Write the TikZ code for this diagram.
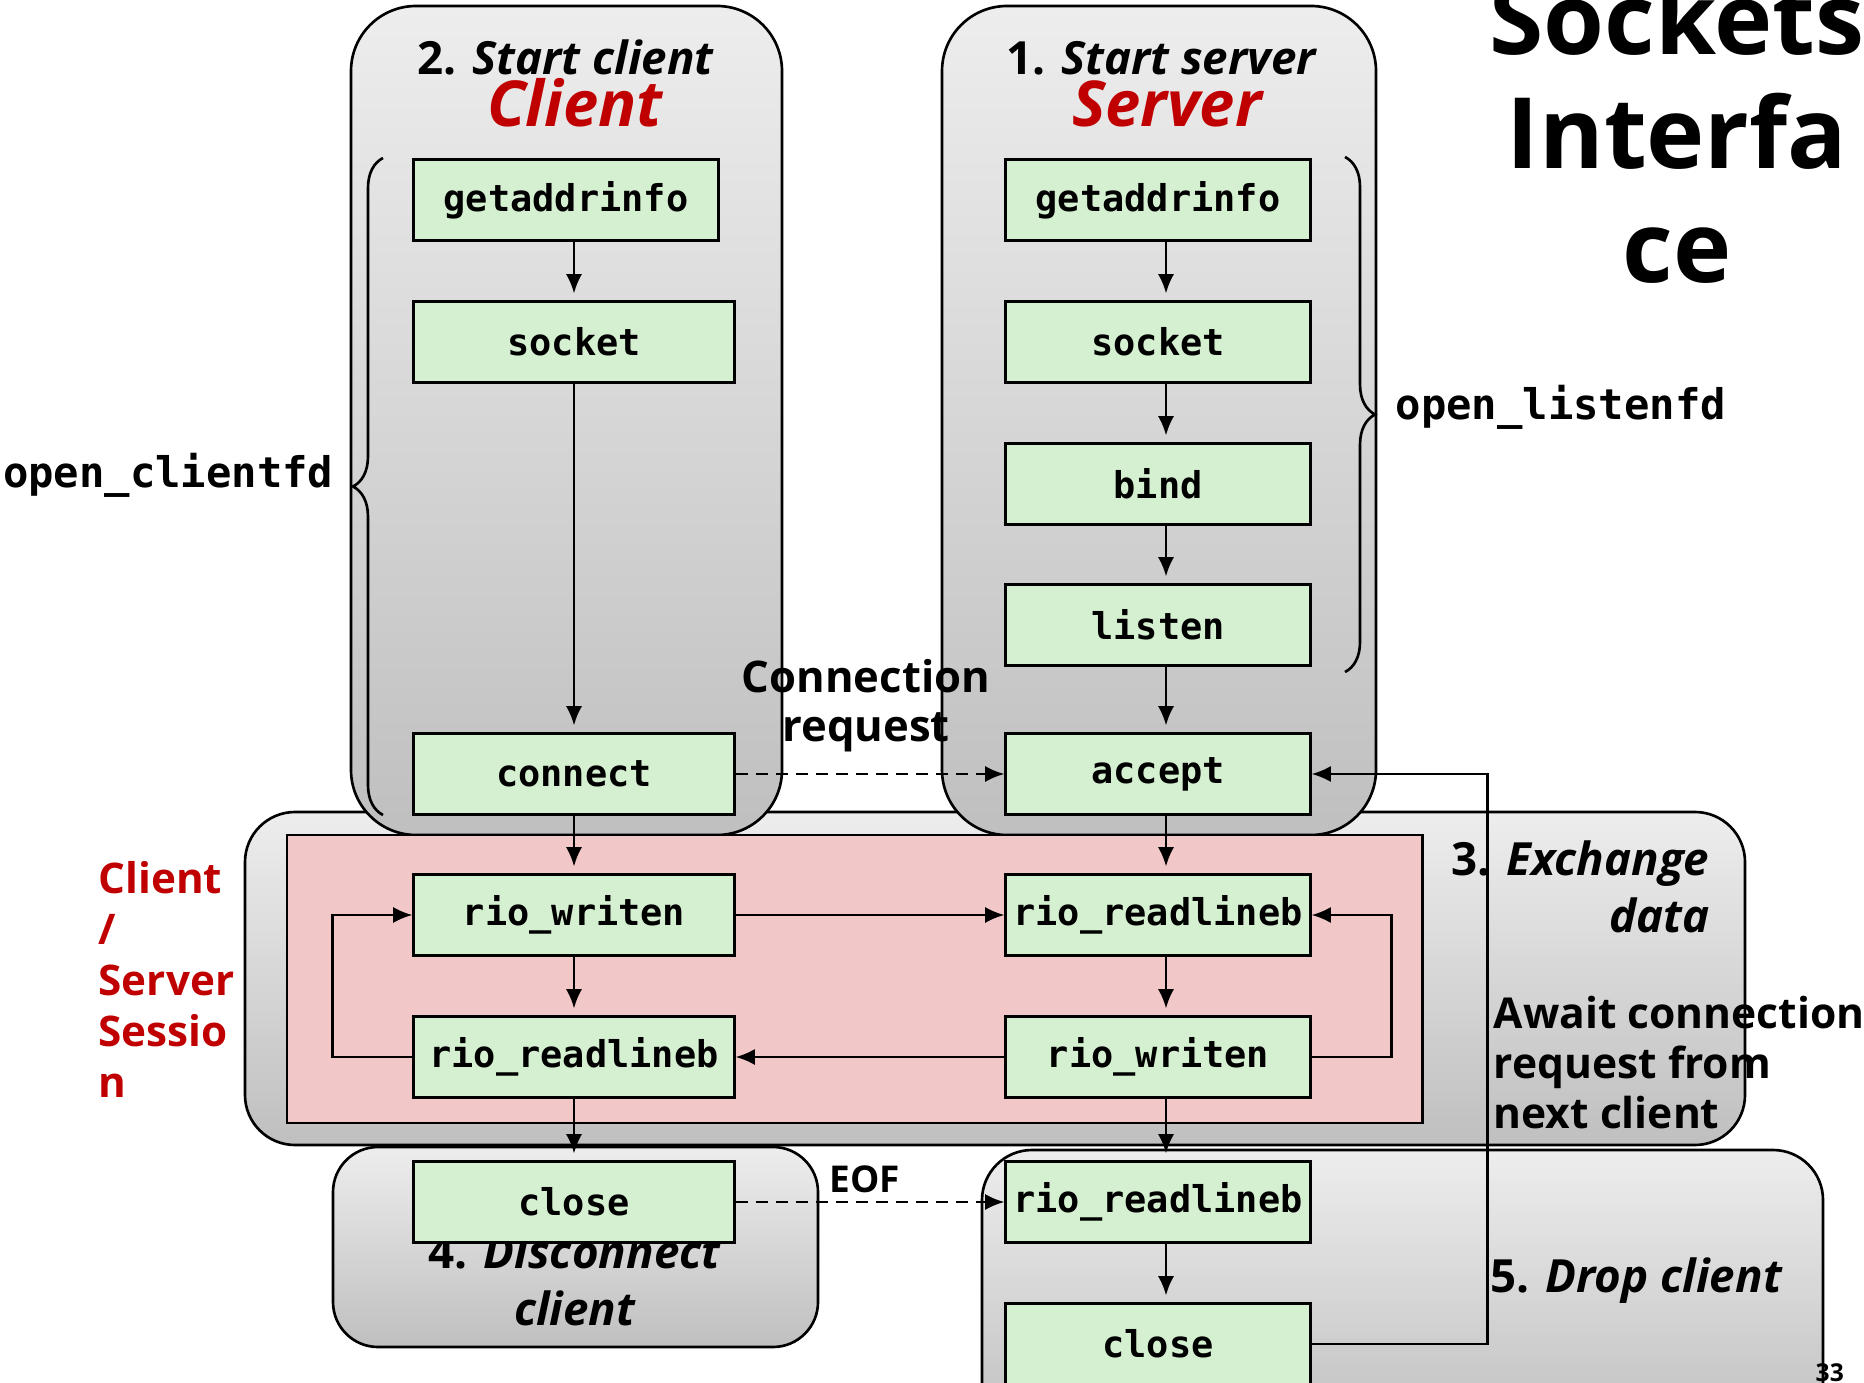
\documentclass[tikz,border=0pt]{standalone}
\usepackage{fontspec}
\setmainfont{Open Sans}
\setmonofont{DejaVu Sans Mono}
\usetikzlibrary{arrows.meta,calc,decorations.pathreplacing}

\definecolor{fngreen}{RGB}{213,240,208}
\definecolor{sessionpink}{RGB}{241,199,200}
\definecolor{titlered}{RGB}{192,0,0}

\tikzset{
	fn/.style={draw,line width=0.85pt,fill=fngreen,minimum width=3.04cm,minimum height=0.8cm,
		inner sep=0pt,font=\ttfamily\bfseries\fontsize{10.5}{12}\selectfont},
	stage/.style={draw,line width=0.75pt,top color=black!7,bottom color=black!25},
	txt/.style={inner sep=0pt,font=\bfseries\fontsize{12.4}{14.2}\selectfont},
	flow/.style={->,line width=0.7pt},
	req/.style={->,line width=0.7pt,dash pattern=on 3.5pt off 2.2pt},
	fdbrace/.style={line width=0.75pt,decorate,decoration={brace,amplitude=0.3cm}},
}

\begin{document}
\begin{tikzpicture}[>={Latex[length=5.5pt,width=4.6pt]},x=0.01cm,y=-0.01cm]

\useasboundingbox (0,0) rectangle (1864,1383);
\clip (0,0) rectangle (1864,1383);

% stage boxes
\draw[stage,rounded corners=0.5cm] (245,812) rectangle (1745,1145);
\draw[stage,rounded corners=0.65cm] (351,6) rectangle (782,835);
\draw[stage,rounded corners=0.65cm] (942,6) rectangle (1376,835);
\draw[line width=0.85pt,fill=sessionpink] (287,835) rectangle (1422,1123);
\draw[stage,rounded corners=0.45cm] (333,1147) rectangle (818,1347);
\draw[stage,rounded corners=0.5cm] (982,1150) rectangle (1823,1440);

% braces
\draw[fdbrace] (383,815) -- (383,158);
\draw[fdbrace] (1345,157) -- (1345,672);

% titles and notes
\node[txt,anchor=base,font=\bfseries\fontsize{13}{15}\selectfont] (ctitle) at (566,75) {2. \textit{Start client}};
\node[txt,anchor=base,text=titlered,font=\bfseries\itshape\fontsize{18}{20}\selectfont] (cname) at (575,127) {Client};
\node[txt,anchor=base,font=\bfseries\fontsize{13}{15}\selectfont] (stitle) at (1162,75) {1. \textit{Start server}};
\node[txt,anchor=base,text=titlered,font=\bfseries\itshape\fontsize{18}{20}\selectfont] (sname) at (1167,127) {Server};
\node[txt,anchor=base,align=center,font=\bfseries\fontsize{28}{32.5}\selectfont] (heading) at (1677,283) {Sockets\\Interfa\\ce};
\node[txt,anchor=base east,align=right,font=\bfseries\fontsize{13}{16}\selectfont] (xchg) at (1710,932) {3. \textit{Exchange}\\\textit{data}};
\node[txt,anchor=base west,align=left,font=\bfseries\fontsize{12.1}{14.2}\selectfont] (await) at (1493,1128) {Await connection\\request from\\next client};
\node[txt,anchor=base west,align=left,text=titlered,font=\bfseries\fontsize{12}{14.5}\selectfont] (session) at (98,1097) {Client\\/\\Server\\Sessio\\n};
\node[txt,anchor=base,align=center] (creq) at (866,742) {Connection\\request};
\node[txt,anchor=base,align=center,font=\bfseries\fontsize{13}{16}\selectfont] (disc) at (575,1325) {4. \textit{Disconnect}\\\textit{client}};
\node[txt,anchor=base west,font=\bfseries\fontsize{13}{15}\selectfont] (drop) at (1490,1292) {5. \textit{Drop client}};
\node[txt,anchor=base west,font=\bfseries\fontsize{10.5}{12}\selectfont] (eof) at (829,1192) {EOF};
\node[txt,anchor=base east,font=\ttfamily\bfseries\fontsize{12}{14}\selectfont] (openc) at (334,488) {open\_clientfd};
\node[txt,anchor=base west,font=\ttfamily\bfseries\fontsize{12}{14}\selectfont] (openl) at (1395,420) {open\_listenfd};
\node[txt,anchor=base west,font=\bfseries\fontsize{7}{8}\selectfont] (pg) at (1815,1381) {33};

% client side
\node[fn] (cgai) at (566,200) {getaddrinfo};
\node[fn,minimum width=3.2cm] (csock) at (574,342) {socket};
\node[fn,minimum width=3.2cm] (cconn) at (574,774) {connect};
\node[fn,minimum width=3.2cm] (cwr) at (574,915) {rio\_writen};
\node[fn,minimum width=3.2cm] (crd) at (574,1057) {rio\_readlineb};
\node[fn,minimum width=3.2cm] (cclose) at (574,1202) {close};

% server side
\node[fn] (sgai) at (1158,200) {getaddrinfo};
\node[fn] (ssock) at (1158,342) {socket};
\node[fn] (sbind) at (1158,484) {bind};
\node[fn] (slisten) at (1158,625) {listen};
\node[fn] (saccept) at (1158,774) {accept};
\node[fn] (srd) at (1158,915) {rio\_readlineb};
\node[fn] (swr) at (1158,1057) {rio\_writen};
\node[fn] (seof) at (1158,1202) {rio\_readlineb};
\node[fn] (sclose) at (1158,1344) {close};

\coordinate (cx) at (574,0);
\coordinate (sx) at (1166,0);

% vertical flow
\draw[flow,shorten >=2pt] (cgai.south -| cx) -- (csock.north -| cx);
\draw[flow,shorten >=2pt] (csock.south -| cx) -- (cconn.north -| cx);
\draw[flow,shorten >=2pt] (cconn.south -| cx) -- (cwr.north -| cx);
\draw[flow,shorten >=2pt] (cwr.south -| cx) -- (crd.north -| cx);
\draw[flow,shorten >=2pt] (crd.south -| cx) -- (cclose.north -| cx);
\draw[flow,shorten >=2pt] (sgai.south -| sx) -- (ssock.north -| sx);
\draw[flow,shorten >=2pt] (ssock.south -| sx) -- (sbind.north -| sx);
\draw[flow,shorten >=2pt] (sbind.south -| sx) -- (slisten.north -| sx);
\draw[flow,shorten >=2pt] (slisten.south -| sx) -- (saccept.north -| sx);
\draw[flow,shorten >=2pt] (saccept.south -| sx) -- (srd.north -| sx);
\draw[flow,shorten >=2pt] (srd.south -| sx) -- (swr.north -| sx);
\draw[flow,shorten >=2pt] (swr.south -| sx) -- (seof.north -| sx);
\draw[flow,shorten >=2pt] (seof.south -| sx) -- (sclose.north -| sx);

% between client and server
\draw[req] (cconn.east) -- (saccept.west);
\draw[flow] (cwr.east) -- (srd.west);
\draw[flow] (swr.west) -- (crd.east);
\draw[req] (cclose.east) -- (seof.west);
\draw[flow] (crd.west) -- ++(-80,0) |- (cwr.west);
\draw[flow] (swr.east) -- ++(80,0) |- (srd.east);
\draw[flow] (sclose.east) -- ++(176,0) |- (saccept.east);

\end{tikzpicture}
\end{document}
